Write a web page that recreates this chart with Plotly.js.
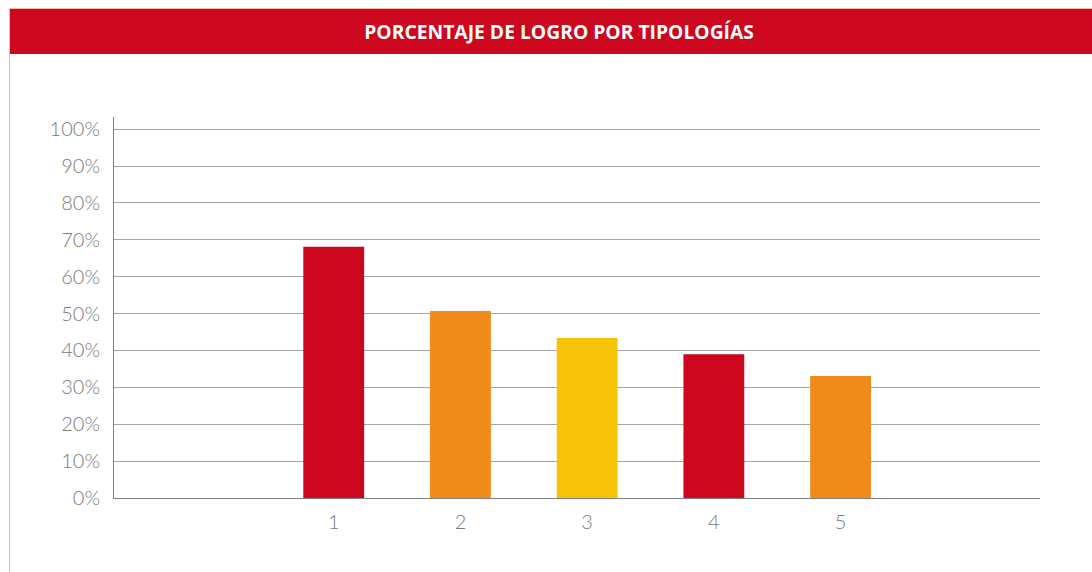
<!DOCTYPE html>
<html>
<head>
<meta charset="utf-8">
<script src="https://cdn.plot.ly/plotly-3.0.1.min.js"></script>
<style>
  html, body { margin: 0; padding: 0; background: #ffffff; }
  #wrap { position: relative; width: 1092px; height: 572px; overflow: hidden; }
  #frameTop { position: absolute; left: 9px; top: 8px; width: 1083px; height: 1px; background: #f0b8a8; }
  #frameLeft { position: absolute; left: 9px; top: 8px; width: 1px; height: 564px; background: #f0b8a8; }
  #band { position: absolute; left: 10px; top: 9px; width: 1082px; height: 45px; background: #cc071e; }
  #chart { position: absolute; left: 0; top: 0; width: 1092px; height: 572px; }
</style>
</head>
<body>
<div id="wrap">
  <div id="frameTop"></div>
  <div id="frameLeft"></div>
  <div id="band"></div>
  <div id="chart"></div>
</div>
<script>
const categories = ["1", "2", "3", "4", "5"];
const positions = [1, 2, 3, 4, 5];
const values = [68.1, 50.7, 43.4, 39.0, 33.1];
const barColors = ["#cc071e", "#f08a1a", "#f6c309", "#cc071e", "#f08a1a"];
const yTickVals = [0, 10, 20, 30, 40, 50, 60, 70, 80, 90, 100];
const yTickText = ["0%", "10%", "20%", "30%", "40%", "50%", "60%", "70%", "80%", "90%", "100%"];
const chartTitle = "PORCENTAJE DE LOGRO POR TIPOLOGÍAS";

const trace = {
  type: "bar",
  x: positions,
  y: values,
  width: 0.48,
  marker: { color: barColors, line: { width: 0 } },
  hoverinfo: "skip"
};

const tickFont = { family: "Lato", size: 20, color: "#7c7c7c", weight: 300 };

const layout = {
  width: 1092,
  height: 572,
  paper_bgcolor: "rgba(0,0,0,0)",
  plot_bgcolor: "rgba(0,0,0,0)",
  margin: { l: 114, r: 52, t: 117, b: 74, pad: 0 },
  showlegend: false,
  title: {
    text: chartTitle,
    font: { family: "Open Sans", size: 19.3, color: "#ffffff", weight: 700 },
    x: 0.512,
    xanchor: "center",
    xref: "container",
    yref: "container",
    y: 1 - 32 / 572,
    yanchor: "middle"
  },
  xaxis: {
    range: [-0.734, 6.574],
    tickvals: positions,
    ticktext: categories,
    showgrid: false,
    zeroline: false,
    showline: true,
    linecolor: "#808080",
    linewidth: 1,
    ticks: "",
    ticklen: 0,
    ticklabelstandoff: 6,
    tickfont: tickFont,
    fixedrange: true
  },
  yaxis: {
    range: [0, 103.3],
    tickvals: yTickVals,
    ticktext: yTickText,
    showgrid: true,
    gridcolor: "#a6a6a6",
    gridwidth: 1,
    zeroline: false,
    showline: true,
    linecolor: "#808080",
    linewidth: 1,
    ticks: "",
    ticklabelstandoff: 9,
    tickfont: tickFont,
    fixedrange: true
  }
};

Plotly.newPlot("chart", [trace], layout, { displayModeBar: false, staticPlot: true });
</script>
</body>
</html>
